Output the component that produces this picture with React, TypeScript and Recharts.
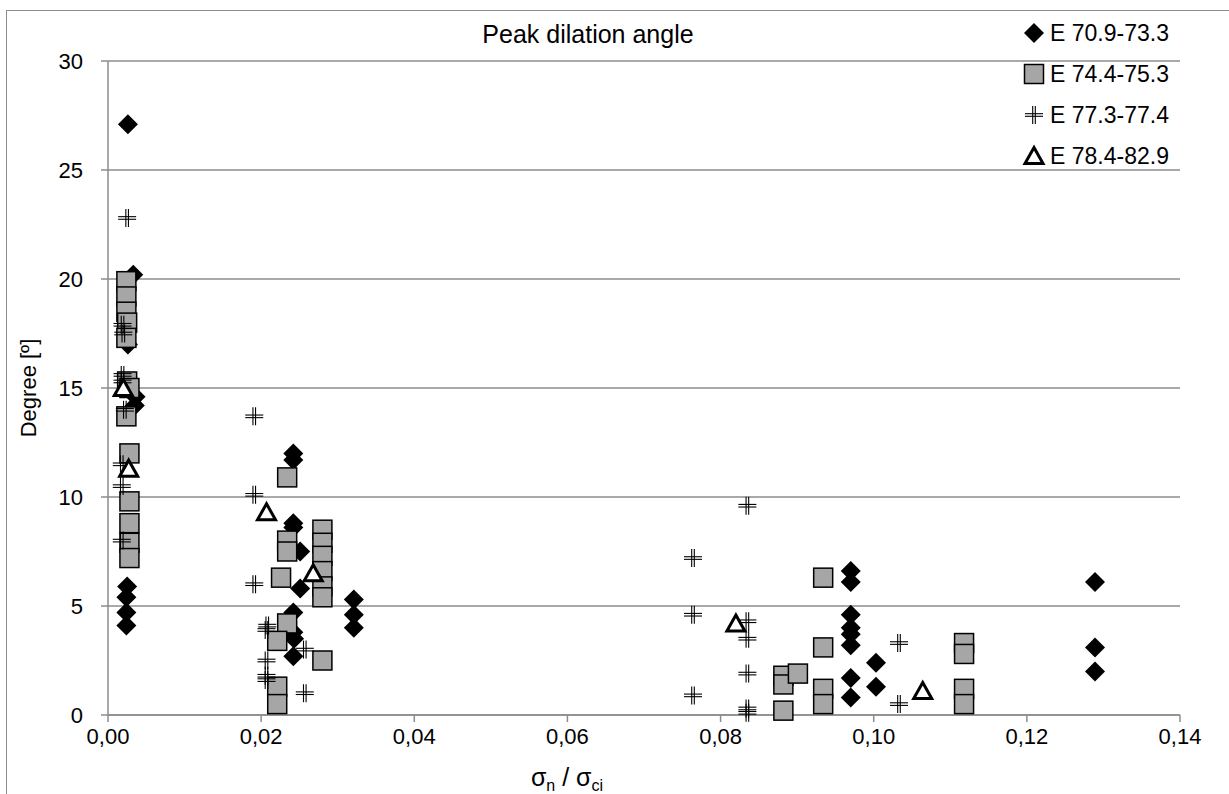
import React from "react";
import {
  ScatterChart,
  Scatter,
  XAxis,
  YAxis,
  CartesianGrid,
  Label,
} from "recharts";

// series values, [sigma_n / sigma_ci, degree]
const e709: [number, number][] = [
  [0.0026, 27.1], [0.0033, 20.2], [0.0026, 17.0], [0.0036, 14.6], [0.0035, 14.2],
  [0.0025, 5.9], [0.0024, 5.4], [0.0024, 4.7], [0.0024, 4.1],
  [0.0242, 12.0], [0.0242, 11.7], [0.0242, 8.8], [0.0242, 8.6], [0.0251, 7.5],
  [0.0251, 5.8], [0.0242, 4.7], [0.0242, 3.8], [0.0243, 3.5], [0.0242, 2.7],
  [0.0321, 5.3], [0.0321, 4.6], [0.0321, 4.0],
  [0.097, 6.6], [0.097, 6.1], [0.097, 4.6], [0.097, 4.0], [0.097, 3.7],
  [0.097, 3.2], [0.097, 1.7], [0.097, 0.8],
  [0.1003, 2.4], [0.1003, 1.3],
  [0.1289, 6.1], [0.1289, 3.1], [0.1289, 2.0],
];

const e744: [number, number][] = [
  [0.0024, 19.9], [0.0024, 19.2], [0.0024, 18.5], [0.0025, 18.0], [0.0024, 17.3],
  [0.0025, 15.3], [0.0028, 15.0], [0.0024, 13.7], [0.0028, 12.0], [0.0028, 9.8],
  [0.0028, 8.8], [0.0028, 7.9], [0.0028, 7.2],
  [0.0234, 10.9], [0.0234, 8.0], [0.0234, 7.5], [0.0226, 6.3], [0.0234, 4.2],
  [0.0221, 3.4], [0.0221, 1.3], [0.0221, 0.5],
  [0.028, 8.5], [0.028, 7.9], [0.028, 7.3], [0.028, 6.6], [0.028, 5.9], [0.028, 5.4],
  [0.028, 2.5],
  [0.0882, 1.8], [0.0882, 1.4], [0.0882, 0.2], [0.0901, 1.9],
  [0.0934, 6.3], [0.0934, 3.1], [0.0934, 1.2], [0.0934, 0.5],
  [0.1118, 3.3], [0.1118, 2.8], [0.1118, 1.2], [0.1118, 0.5],
];

const e773: [number, number][] = [
  [0.0025, 22.8], [0.0019, 17.9], [0.002, 17.5], [0.0019, 15.6], [0.0019, 15.3],
  [0.0022, 14.0], [0.0018, 11.5], [0.0018, 10.5], [0.0018, 8.0],
  [0.0191, 13.7], [0.0191, 10.1], [0.0191, 6.0],
  [0.0208, 4.1], [0.0207, 3.9], [0.0207, 2.5], [0.0207, 1.8], [0.0207, 1.6],
  [0.0257, 3.0], [0.0257, 1.0],
  [0.0764, 7.2], [0.0764, 4.6], [0.0764, 0.9],
  [0.0835, 9.6], [0.0835, 4.3], [0.0835, 3.5], [0.0835, 1.9], [0.0835, 0.3], [0.0835, 0.1],
  [0.1033, 3.3], [0.1033, 0.5],
];

const e784: [number, number][] = [
  [0.002, 15.0], [0.0027, 11.3], [0.0207, 9.3], [0.0268, 6.5], [0.082, 4.2], [0.1064, 1.1],
];

const seriesNames = ["E 70.9-73.3", "E 74.4-75.3", "E 77.3-77.4", "E 78.4-82.9"];
const xTicks = [0, 0.02, 0.04, 0.06, 0.08, 0.1, 0.12, 0.14];
const yTicks = [0, 5, 10, 15, 20, 25, 30];

const toPoints = (arr: [number, number][]) => arr.map(([x, y]) => ({ x, y }));

const FONT = "'Liberation Sans', Arial, sans-serif";
const GRID = "#8c8c8c";

const Diamond = ({ cx, cy }: any) => (
  <polygon
    points={`${cx},${cy - 10} ${cx + 10},${cy} ${cx},${cy + 10} ${cx - 10},${cy}`}
    fill="#000"
  />
);

const Square = ({ cx, cy }: any) => (
  <rect x={cx - 9.5} y={cy - 9.5} width={19} height={19} fill="#a6a6a6" stroke="#000" strokeWidth={1.5} />
);

const Plus = ({ cx, cy }: any) => (
  <g stroke="#000" strokeWidth={1.1}>
    <line x1={cx - 9} y1={cy - 1.3} x2={cx + 9} y2={cy - 1.3} />
    <line x1={cx - 9} y1={cy + 1.3} x2={cx + 9} y2={cy + 1.3} />
    <line x1={cx - 1.3} y1={cy - 9} x2={cx - 1.3} y2={cy + 9} />
    <line x1={cx + 1.3} y1={cy - 9} x2={cx + 1.3} y2={cy + 9} />
  </g>
);

const Triangle = ({ cx, cy }: any) => (
  <polygon
    points={`${cx},${cy - 8.5} ${cx + 9},${cy + 7.5} ${cx - 9},${cy + 7.5}`}
    fill="#fff"
    stroke="#000"
    strokeWidth={3}
    strokeLinejoin="miter"
  />
);

const markers = [Diamond, Square, Plus, Triangle];
const legendY = [33, 74, 115, 156];

const XTitle = () => (
  <text x={567} y={786} textAnchor="middle" fontFamily={FONT} fontSize={25} fill="#000">
    <tspan>σ</tspan>
    <tspan fontSize={16} dy={5}>n</tspan>
    <tspan dy={-5}> / σ</tspan>
    <tspan fontSize={16} dy={5}>ci</tspan>
  </text>
);

export default function App() {
  return (
    <div style={{ position: "absolute", left: 0, top: 0, width: 1229, height: 794, overflow: "hidden", background: "#fff" }}>
      <div
        style={{
          position: "absolute",
          left: 6,
          top: 10,
          width: 1300,
          height: 900,
          borderLeft: `1.5px solid ${GRID}`,
          borderTop: `1.5px solid ${GRID}`,
        }}
      />
      <ScatterChart
        width={1229}
        height={794}
        margin={{ top: 61, right: 49, bottom: 39, left: 58 }}
        style={{ position: "absolute", left: 0, top: 0 }}
      >
        <CartesianGrid horizontal vertical={false} stroke={GRID} strokeWidth={1.5} />
        <XAxis
          type="number"
          dataKey="x"
          domain={[0, 0.14]}
          ticks={xTicks}
          tickFormatter={(v: number) => v.toFixed(2).replace(".", ",")}
          stroke={GRID}
          strokeWidth={1.5}
          tickSize={7}
          tickMargin={6}
          height={40}
          tick={{ fill: "#000", fontSize: 22, fontFamily: FONT }}
          allowDataOverflow
        >
          <Label content={<XTitle />} />
        </XAxis>
        <YAxis
          type="number"
          dataKey="y"
          domain={[0, 30]}
          ticks={yTicks}
          stroke={GRID}
          strokeWidth={1.5}
          tickSize={7}
          tickMargin={18}
          width={50}
          tick={{ fill: "#000", fontSize: 22, fontFamily: FONT }}
        >
          <Label
            value="Degree [º]"
            angle={-90}
            position="insideLeft"
            offset={0}
            style={{ fontSize: 22, fontFamily: FONT, fill: "#000", textAnchor: "middle" }}
            dx={-30}
          />
        </YAxis>
        {[e709, e744, e773, e784].map((arr, i) => {
          const M = markers[i];
          return (
            <Scatter
              key={seriesNames[i]}
              name={seriesNames[i]}
              data={toPoints(arr)}
              isAnimationActive={false}
              shape={(p: any) => <M cx={p.cx} cy={p.cy} />}
            />
          );
        })}
        <text x={588} y={43} textAnchor="middle" fontFamily={FONT} fontSize={25} fill="#000">
          Peak dilation angle
        </text>
        {seriesNames.map((n, i) => {
          const M = markers[i];
          return (
            <g key={n}>
              <M cx={1034} cy={legendY[i]} />
              <text x={1050} y={legendY[i] + 8} fontFamily={FONT} fontSize={23} fill="#000">
                {n}
              </text>
            </g>
          );
        })}
      </ScatterChart>
    </div>
  );
}
